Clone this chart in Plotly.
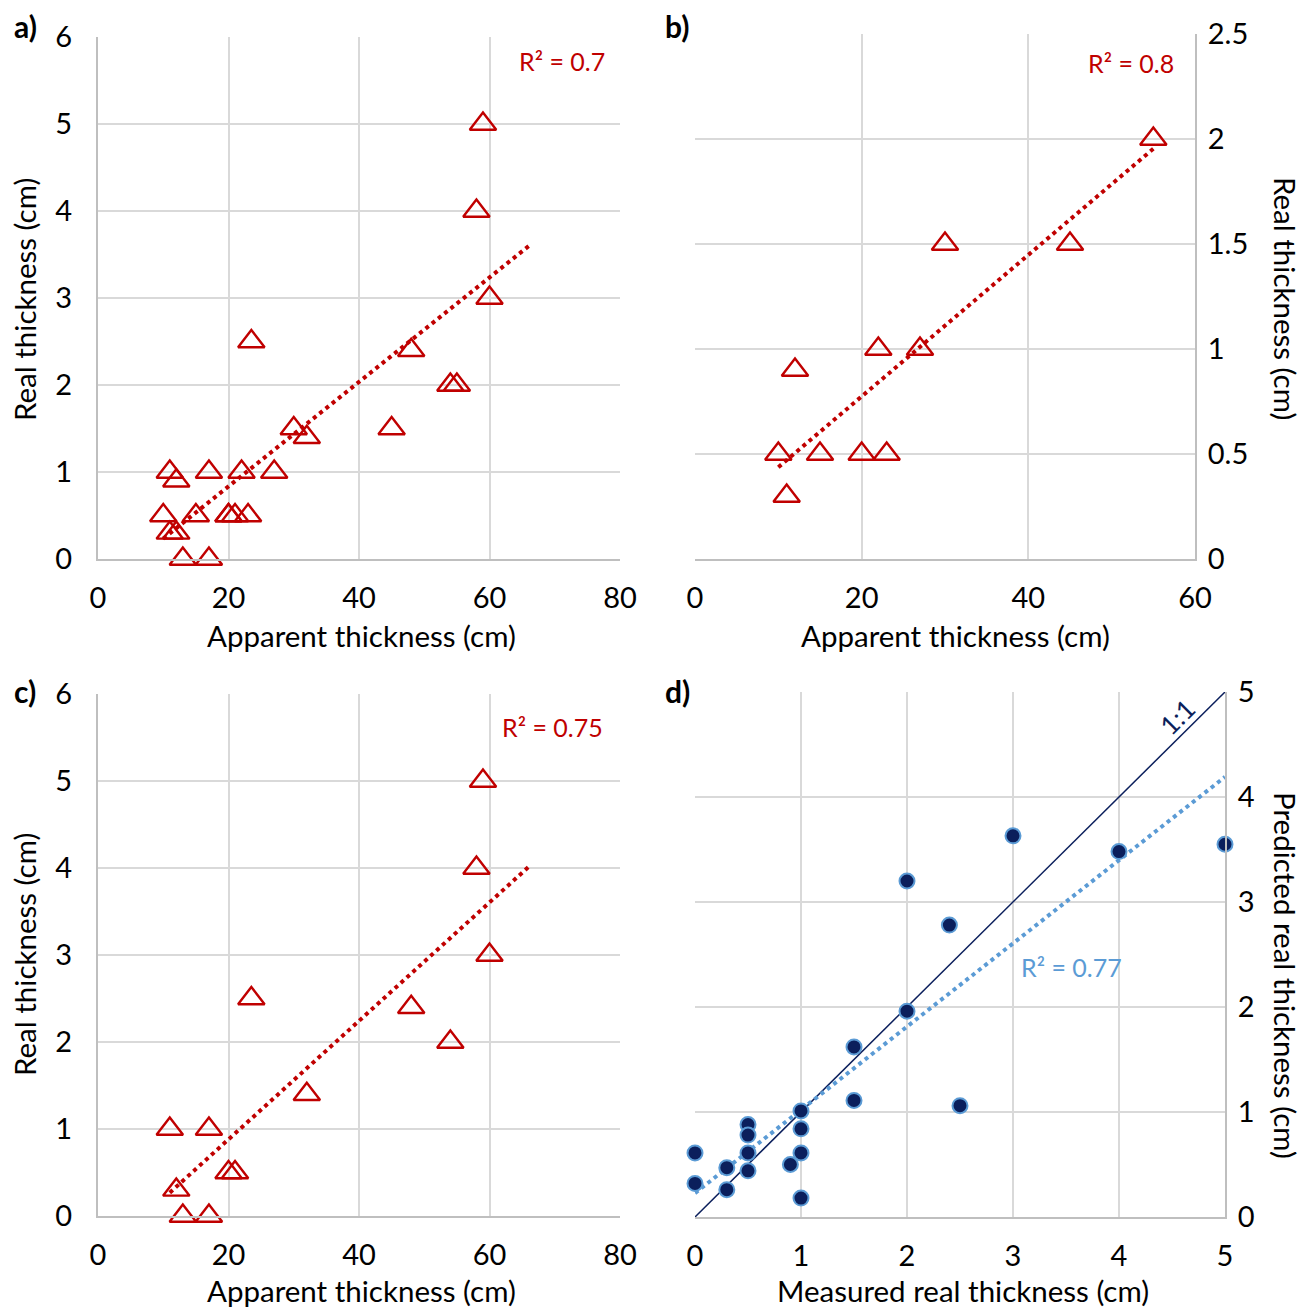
import numpy as np
import plotly.graph_objects as go

# ---------------- data ----------------
# a) all samples
A_X = [59, 58, 60, 23.5, 48, 54, 55, 45, 30, 32, 11, 12, 17, 22, 27,
       10, 15, 20, 20, 21, 23, 11, 12, 13, 17]
A_Y = [5, 4, 3, 2.5, 2.4, 2, 2, 1.5, 1.5, 1.4, 1, 0.9, 1, 1, 1,
       0.5, 0.5, 0.5, 0.5, 0.5, 0.5, 0.3, 0.3, 0, 0]
# b) subset
B_X = [55, 30, 45, 22, 27, 12, 10, 15, 20, 23, 11]
B_Y = [2, 1.5, 1.5, 1, 1, 0.9, 0.5, 0.5, 0.5, 0.5, 0.3]
# c) subset
C_X = [59, 58, 60, 23.5, 48, 54, 32, 11, 17, 20, 21, 12, 13, 17]
C_Y = [5, 4, 3, 2.5, 2.4, 2, 1.4, 1, 1, 0.5, 0.5, 0.3, 0, 0]
# d) measured vs predicted
D_X = [3, 5, 4, 2, 2.4, 2, 1.5, 1.5, 2.5, 1, 1, 1, 1, 0.5, 0.5, 0.5, 0.5,
       0.9, 0.3, 0.3, 0, 0]
D_Y = [3.63, 3.55, 3.48, 3.2, 2.78, 1.96, 1.62, 1.11, 1.06, 1.01, 0.84, 0.61,
       0.18, 0.88, 0.78, 0.61, 0.44, 0.5, 0.47, 0.26, 0.61, 0.32]
ONE_TO_ONE = [0, 5]

R2_LABELS = {"a": "R² = 0.7", "b": "R² = 0.8", "c": "R² = 0.75", "d": "R² = 0.77"}
TREND_FORWARD = {"a": 6, "b": 0, "c": 6, "d": 0}

RED = "#C00000"
NAVY = "#0B1F5C"
LBLUE = "#5B9BD5"
GRID = "#D9D9D9"
AXLINE = "#BFBFBF"
FONT = "Lato"

PAGE_W, PAGE_H = 1311, 1307
OFF = 8  # default page body margin
W, H = PAGE_W - OFF, PAGE_H - OFF


def px(x):
    return (x - OFF) / W


def py(y):
    return 1 - (y - OFF) / H


def trend(xs, ys, fwd):
    m, b = np.polyfit(xs, ys, 1)
    x0, x1 = min(xs), max(xs) + fwd
    xx = np.linspace(x0, x1, 2)
    return xx, m * xx + b


fig = go.Figure()

tri = dict(symbol="triangle-up-open", size=23, color=RED, line=dict(width=2.4, color=RED))
for key, xs, ys, xa, ya in [("a", A_X, A_Y, "x", "y"), ("b", B_X, B_Y, "x2", "y2"),
                            ("c", C_X, C_Y, "x3", "y3")]:
    tx, ty = trend(xs, ys, TREND_FORWARD[key])
    fig.add_trace(go.Scatter(x=tx, y=ty, mode="lines", xaxis=xa, yaxis=ya,
                             line=dict(color=RED, width=4, dash="dot"), hoverinfo="skip"))
    fig.add_trace(go.Scatter(x=xs, y=ys, mode="markers", xaxis=xa, yaxis=ya, marker=tri,
                             cliponaxis=False))

# d
fig.add_trace(go.Scatter(x=ONE_TO_ONE, y=ONE_TO_ONE, mode="lines", xaxis="x4", yaxis="y4",
                         line=dict(color=NAVY, width=1.5)))
tx, ty = trend(D_X, D_Y, TREND_FORWARD["d"])
fig.add_trace(go.Scatter(x=tx, y=ty, mode="lines", xaxis="x4", yaxis="y4",
                         line=dict(color=LBLUE, width=4, dash="dot")))
fig.add_trace(go.Scatter(x=D_X, y=D_Y, mode="markers", xaxis="x4", yaxis="y4", cliponaxis=False,
                         marker=dict(symbol="circle", size=15, color=NAVY,
                                     line=dict(width=2, color=LBLUE))))

tickfont = dict(family=FONT, size=29, color="#000000")


def xax(dom, rng, dtick, anchor):
    return dict(domain=dom, range=rng, dtick=dtick, tick0=0, anchor=anchor,
                showgrid=True, gridcolor=GRID, gridwidth=2, zeroline=False,
                showline=True, linecolor=AXLINE, linewidth=2, ticks="",
                automargin=False, ticklabelstandoff=12, tickfont=tickfont, fixedrange=True)


def yax(dom, rng, dtick, anchor, side="left"):
    return dict(domain=dom, range=rng, dtick=dtick, tick0=0, anchor=anchor, side=side,
                showgrid=True, gridcolor=GRID, gridwidth=2, zeroline=False,
                showline=True, linecolor=AXLINE, linewidth=2, ticks="",
                automargin=False, ticklabelstandoff=18 if side == "left" else 5,
                tickfont=tickfont, fixedrange=True)


fig.update_layout(
    template="none",
    width=W, height=H, margin=dict(l=0, r=0, t=0, b=0, autoexpand=False),
    paper_bgcolor="white", plot_bgcolor="white", showlegend=False,
    font=dict(family=FONT, size=29, color="#000000"),
    xaxis=xax([px(98), px(620)], [0, 80], 20, "y"),
    yaxis=yax([py(559), py(37)], [0, 6], 1, "x"),
    xaxis2=xax([px(695), px(1195)], [0, 60], 20, "y2"),
    yaxis2=yax([py(559), py(34)], [0, 2.5], 0.5, "x2", side="right"),
    xaxis3=xax([px(98), px(620)], [0, 80], 20, "y3"),
    yaxis3=yax([py(1216), py(694)], [0, 6], 1, "x3"),
    xaxis4=xax([px(695), px(1225)], [0, 5], 1, "y4"),
    yaxis4=yax([py(1217), py(692)], [0, 5], 1, "x4", side="right"),
)

ann = []


def text(x, y, s, size=29.5, color="#000000", angle=0, xanchor="center", bold=False):
    ann.append(dict(x=px(x), y=py(y), xref="paper", yref="paper", text=f"<b>{s}</b>" if bold else s,
                    showarrow=False, textangle=angle, xanchor=xanchor, yanchor="middle",
                    font=dict(family=FONT, size=size, color=color)))


# axis titles
text(361, 636, "Apparent thickness (cm)")
text(24, 300, "Real thickness (cm)", angle=-90)
text(955, 636, "Apparent thickness (cm)")
text(1286, 298, "Real thickness (cm)", angle=90)
text(361, 1290, "Apparent thickness (cm)")
text(24, 955, "Real thickness (cm)", angle=-90)
text(963, 1290, "Measured real thickness (cm)")
text(1286, 975, "Predicted real thickness (cm)", angle=90)
# panel labels
text(25, 26, "a)", size=30, bold=True)
text(677, 26, "b)", size=30, bold=True)
text(25, 691, "c)", size=30, bold=True)
text(677, 691, "d)", size=30, bold=True)
# R2
text(607, 61, R2_LABELS["a"], size=25, color=RED, xanchor="right")
text(1176, 63, R2_LABELS["b"], size=25, color=RED, xanchor="right")
text(605, 727, R2_LABELS["c"], size=25, color=RED, xanchor="right")
text(1019, 967, R2_LABELS["d"], size=25, color=LBLUE, xanchor="left")
# 1:1 label
text(1177, 717, "1:1", size=26, color=NAVY, angle=-45)

fig.update_layout(annotations=ann)
fig.write_html("out.html")
